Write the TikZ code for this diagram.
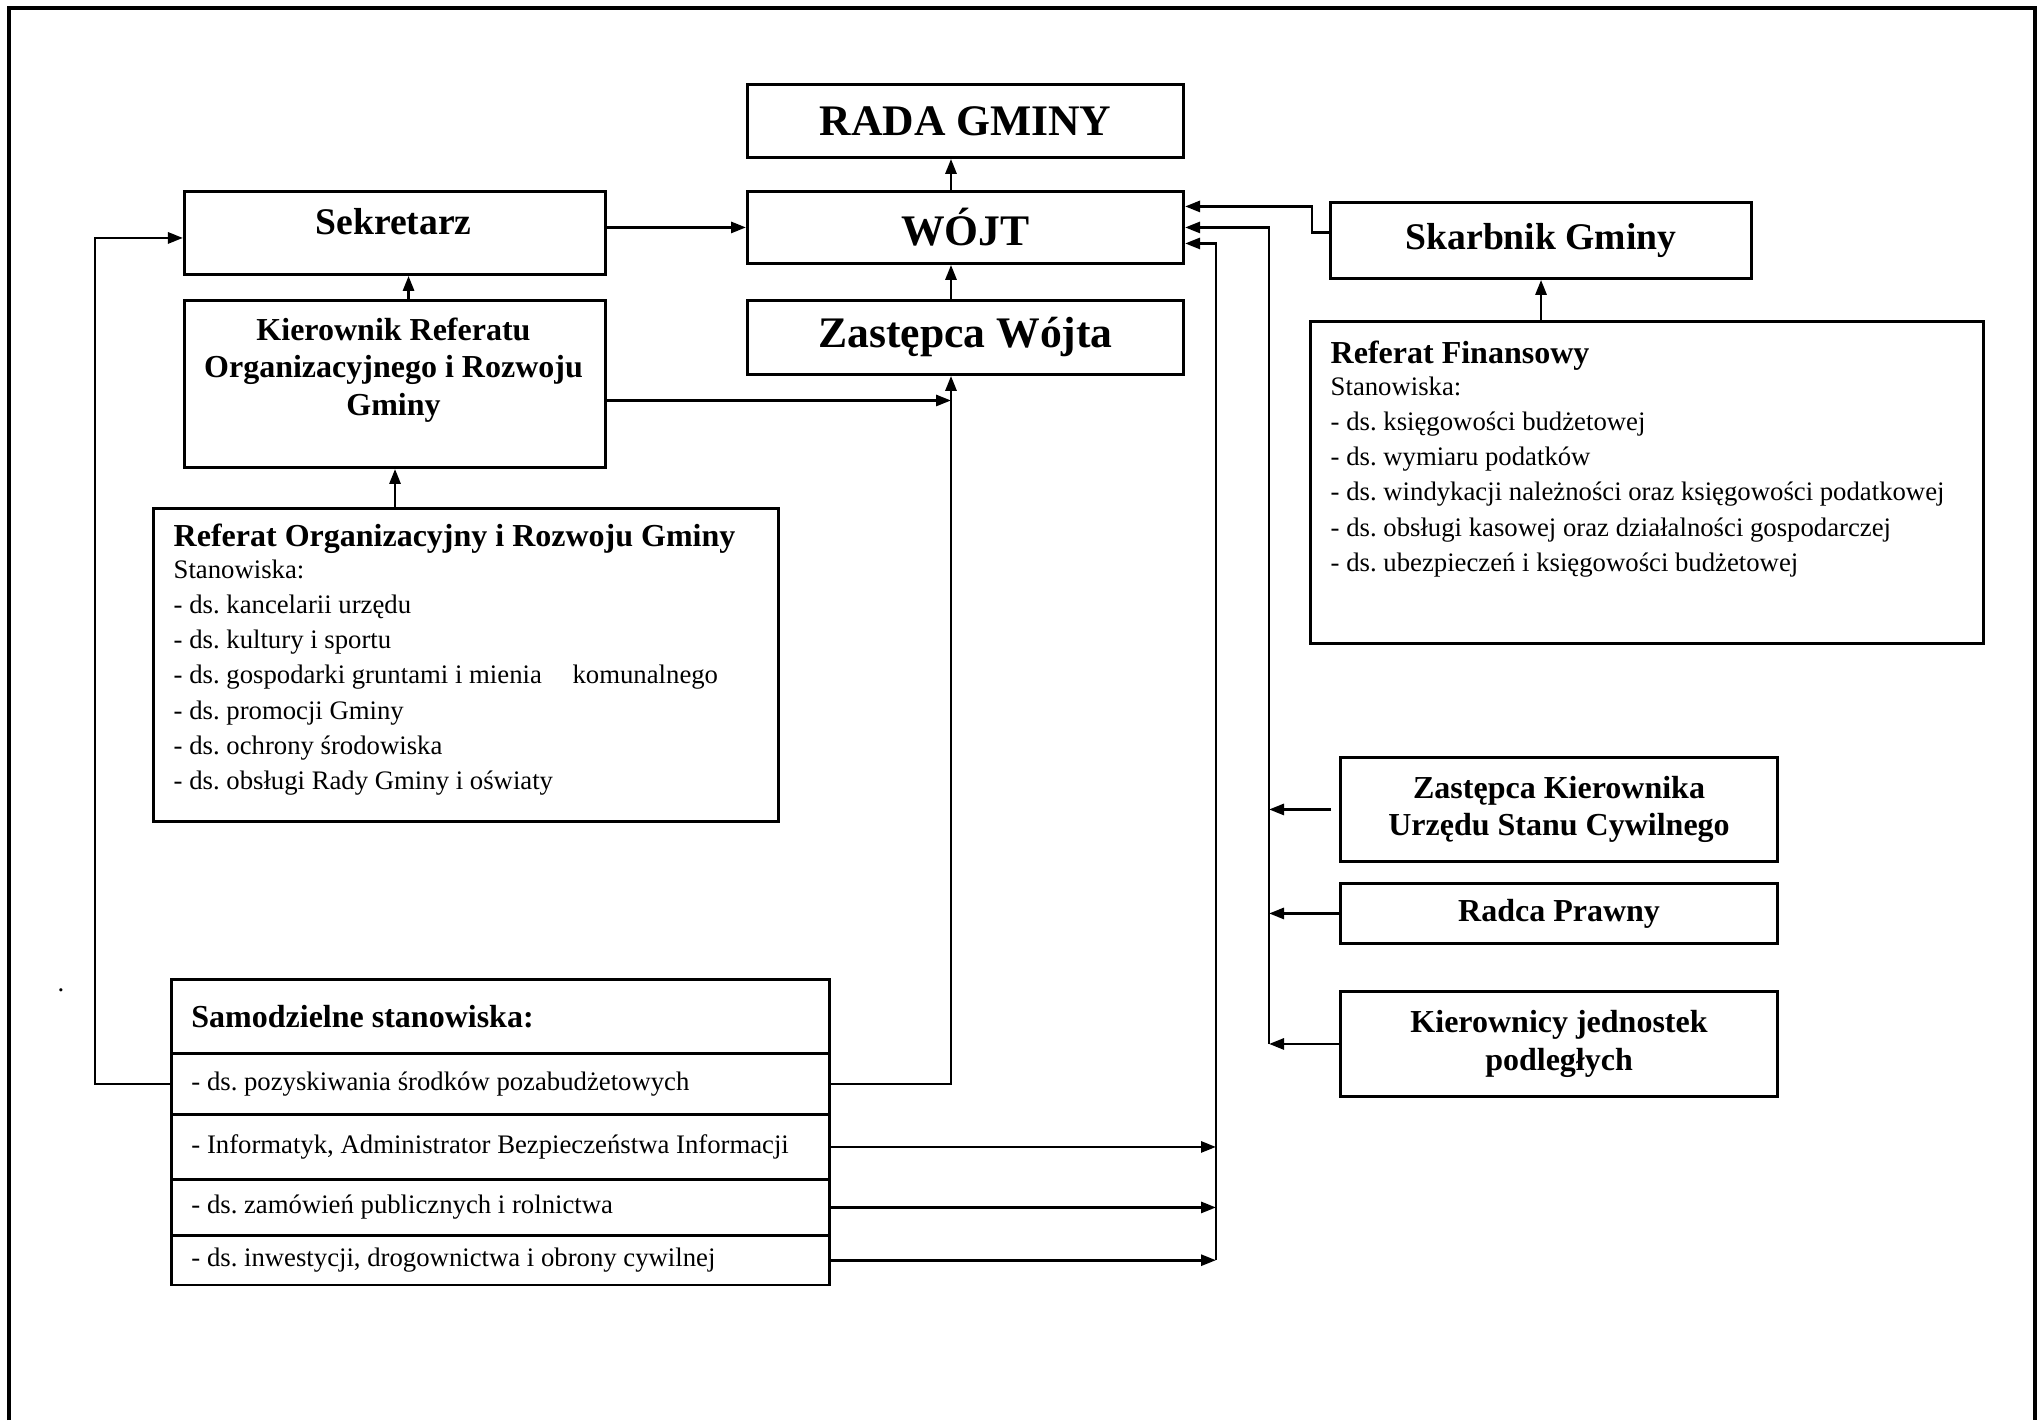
\documentclass[tikz,border=0pt]{standalone}
\usepackage{fontspec}
\setmainfont{Liberation Serif}
\usetikzlibrary{arrows.meta}
\frenchspacing

\newcommand{\tytulfont}{\fontsize{12.4}{14}\selectfont\bfseries}
\newcommand{\sredfont}{\fontsize{10.7}{13}\selectfont\bfseries}
\newcommand{\malyfont}{\fontsize{9.1}{10.7}\selectfont\bfseries}
\newcommand{\listafont}{\fontsize{7.6}{10.0}\selectfont}

\tikzset{
  okno/.style={draw, line width=0.8pt, inner sep=0pt, anchor=north west, align=center},
  wiersz/.style={okno, text width=6.175cm, inner xsep=0.2cm, align=flush left, font=\listafont},
  strz/.style={line width=0.8pt, -{Triangle[length=0.15cm,width=0.11cm]}},
  linia/.style={line width=0.8pt},
}

\begin{document}
\begin{tikzpicture}[x=0.01cm,y=-0.01cm]
\useasboundingbox (0,0) rectangle (2037,1420);
%ramka
\draw[line width=1.2pt] (9,1420)--(9,8)--(2035,8)--(2035,1420);

%rada, wojt, zastepca
\node[okno, minimum width=4.36cm, minimum height=0.73cm, font=\tytulfont] (rada) at (746,83) {RADA GMINY};
\node[okno, minimum width=4.36cm, minimum height=0.72cm, font=\tytulfont] (wojt) at (746,190) {WÓJT};
\node[okno, minimum width=4.36cm, minimum height=0.74cm, font=\tytulfont] (zast) at (746,299) {Zastępca Wójta};

%sekretarz i referat organizacyjny
\node[okno, minimum width=4.21cm, minimum height=0.83cm] (sek) at (183,190) {};
\node[font=\sredfont] (sekT) at (393.5,222) {Sekretarz};
\node[okno, minimum width=4.21cm, minimum height=1.67cm] (kier) at (183,299) {};
\node[font=\malyfont, align=center, inner sep=0pt] (kierT) at (393.5,370) {Kierownik Referatu\\Organizacyjnego i Rozwoju\\Gminy};
\node[okno, minimum width=6.25cm, minimum height=3.13cm] (refOrg) at (152,507) {};
\node[font=\listafont, align=left, inner sep=0pt, anchor=north west] (refOrgT) at (173,523)
  {{\malyfont Referat Organizacyjny i Rozwoju Gminy}\\[-0.03cm]Stanowiska:\\- ds. kancelarii urzędu\\- ds. kultury i sportu\\- ds. gospodarki gruntami i mienia\hspace{0.24cm} komunalnego\\- ds. promocji Gminy\\- ds. ochrony środowiska\\- ds. obsługi Rady Gminy i oświaty};

%skarbnik i referat finansowy
\node[okno, minimum width=4.21cm, minimum height=0.76cm, font=\sredfont] (skarb) at (1329,201) {Skarbnik Gminy};
\node[okno, minimum width=6.73cm, minimum height=3.22cm] (refFin) at (1309,320) {};
\node[font=\listafont, align=left, inner sep=0pt, anchor=north west] (refFinT) at (1330,340)
  {{\malyfont Referat Finansowy}\\[-0.03cm]Stanowiska:\\- ds. księgowości budżetowej\\- ds. wymiaru podatków\\- ds. windykacji należności oraz księgowości podatkowej\\- ds. obsługi kasowej oraz działalności gospodarczej\\- ds. ubezpieczeń i księgowości budżetowej};

%stanowiska po prawej
\node[okno, minimum width=4.37cm, minimum height=1.04cm, font=\malyfont] (zastUSC) at (1339,756) {Zastępca Kierownika\\Urzędu Stanu Cywilnego};
\node[okno, minimum width=4.37cm, minimum height=0.60cm, font=\malyfont] (radca) at (1339,882) {Radca Prawny};
\node[okno, minimum width=4.37cm, minimum height=1.05cm, font=\malyfont] (kierJ) at (1339,990) {Kierownicy jednostek\\podległych};

%samodzielne stanowiska
\node[wiersz, minimum height=0.74cm, font=\malyfont] (head) at (170,978) {Samodzielne stanowiska:};
\node[wiersz, minimum height=0.61cm] (r1) at (170,1052) {- ds. pozyskiwania środków pozabudżetowych};
\node[wiersz, minimum height=0.65cm] (r2) at (170,1113) {- Informatyk, Administrator Bezpieczeństwa Informacji};
\node[wiersz, minimum height=0.56cm] (r3) at (170,1178) {- ds. zamówień publicznych i rolnictwa};
\node[wiersz, minimum height=0.495cm] (r4) at (170,1234) {- ds. inwestycji, drogownictwa i obrony cywilnej};
\node[font=\listafont] (kropka) at (61,990) {.};

%polaczenia
\coordinate (os) at (951,0);
\coordinate (lewa) at (95,0);
\coordinate (prawa) at (1269,0);
\coordinate (tab) at (1216,0);
\draw[strz] (wojt.north -| os) -- (rada.south -| os);
\draw[strz] (zast.north -| os) -- (wojt.south -| os);
\draw[strz] (sek.east |- wojt.west) -- (wojt.west);
\draw[strz] ([xshift=0.135cm]kier.north) -- ([xshift=0.135cm]sek.south);
\draw[strz] (refOrg.north -| kier.south) -- (kier.south);
\draw[strz] ([yshift=-0.165cm]kier.east) -- ([yshift=-0.165cm]kier.east -| os);
\draw[strz] (r1.east) -- (r1.east -| os) -- (zast.south -| os);
\draw[strz] (r1.west) -- (r1.west -| lewa) -- ([yshift=-0.05cm]sek.west -| lewa) -- ([yshift=-0.05cm]sek.west);

\draw[strz] ([yshift=0.08cm]skarb.west) -- ++(-0.17cm,0) |- ([yshift=0.21cm]wojt.east);
\draw[strz] (refFin.north -| skarb.south) -- (skarb.south);

\draw[strz] (kierJ.west -| prawa) -- (prawa |- wojt.east) -- (wojt.east);
\draw[strz, shorten <=0.08cm] (zastUSC.west) -- (zastUSC.west -| prawa);
\draw[strz] (radca.west) -- (radca.west -| prawa);
\draw[strz] (kierJ.west) -- (kierJ.west -| prawa);

\draw[strz] (r4.east -| tab) -- ([yshift=-0.16cm]wojt.east -| tab) -- ([yshift=-0.16cm]wojt.east);
\foreach \r in {r2,r3,r4}
  \draw[strz] (\r.east) -- (\r.east -| tab);

\end{tikzpicture}
\end{document}
